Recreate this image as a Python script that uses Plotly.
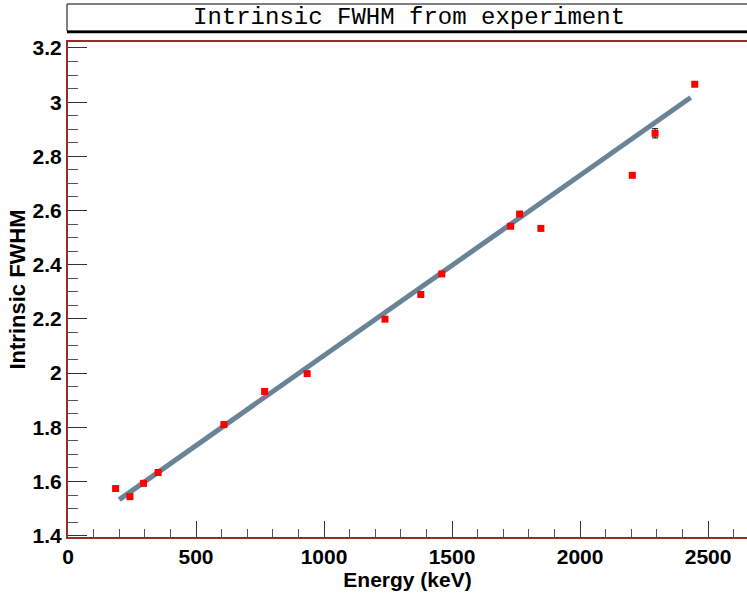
import plotly.graph_objects as go

energy = [186, 242, 295, 352, 609, 768, 934, 1238, 1378, 1460, 1729, 1764, 1847, 2204, 2293, 2448]
fwhm = [1.574, 1.544, 1.593, 1.633, 1.810, 1.932, 1.998, 2.199, 2.290, 2.366, 2.542, 2.587, 2.534, 2.730, 2.885, 3.066]
fwhm_err = [0.003, 0.003, 0.003, 0.003, 0.003, 0.003, 0.003, 0.003, 0.003, 0.003, 0.003, 0.003, 0.003, 0.004, 0.017, 0.004]
fit_x = [200, 2432]
fit_params = [1.400, 0.000665]
fit_y = [fit_params[0] + fit_params[1] * e for e in fit_x]

fig = go.Figure()
fig.add_trace(go.Scatter(x=fit_x, y=fit_y, mode="lines",
                         line=dict(color="#6a8497", width=5), showlegend=False))
fig.add_trace(go.Scatter(x=energy, y=fwhm, mode="markers",
                         marker=dict(symbol="square", color="#ff0000", size=7),
                         error_y=dict(type="data", array=fwhm_err, color="black", thickness=1, width=3),
                         showlegend=False))

tickfont = dict(family="Liberation Sans", size=21, color="black", weight="bold")
xtitlefont = dict(family="Liberation Sans", size=21, color="black", weight="bold")
ytitlefont = dict(family="Liberation Sans", size=22, color="black", weight="bold")
fig.update_layout(
    width=747, height=594,
    margin=dict(l=68, r=0, t=42, b=57),
    plot_bgcolor="white", paper_bgcolor="white",
    xaxis=dict(range=[0, 2652], dtick=500, tick0=0, ticks="inside", ticklen=16, tickcolor="#333",
               showgrid=False, zeroline=False, showline=True, linecolor="#9b2a2a", linewidth=2,
               mirror=True, tickfont=tickfont,
               minor=dict(dtick=100, ticks="inside", ticklen=8, tickcolor="#555", showgrid=False),
               title=dict(text="Energy (keV)", font=xtitlefont, standoff=0)),
    yaxis=dict(range=[1.395, 3.222], dtick=0.2, tick0=1.4, ticks="inside", ticklen=19, tickcolor="#333",
               showgrid=False, zeroline=False, showline=True, linecolor="#9b2a2a", linewidth=2,
               tickfont=tickfont,
               minor=dict(dtick=0.05, ticks="inside", ticklen=10, tickcolor="#555", showgrid=False),
               title=dict(text="Intrinsic FWHM", font=ytitlefont, standoff=1)),
)

# title box with shadow
H = 495.0
W = 679.0
def py(p):
    return (537 - p) / H
def px(p):
    return (p - 68) / W

fig.add_shape(type="rect", xref="paper", yref="paper",
              x0=px(67), x1=px(760), y0=py(31), y1=py(4),
              line=dict(color="black", width=1), fillcolor="white", layer="above")
fig.add_shape(type="line", xref="paper", yref="paper",
              x0=px(67), x1=px(760), y0=py(32), y1=py(32),
              line=dict(color="black", width=2.5))
fig.add_annotation(xref="paper", yref="paper", x=px(409), y=py(18), yanchor="middle", xanchor="center",
                   text="Intrinsic FWHM from experiment", showarrow=False,
                   font=dict(family="Liberation Mono", size=24, color="black"))

fig.write_html("out.html")
